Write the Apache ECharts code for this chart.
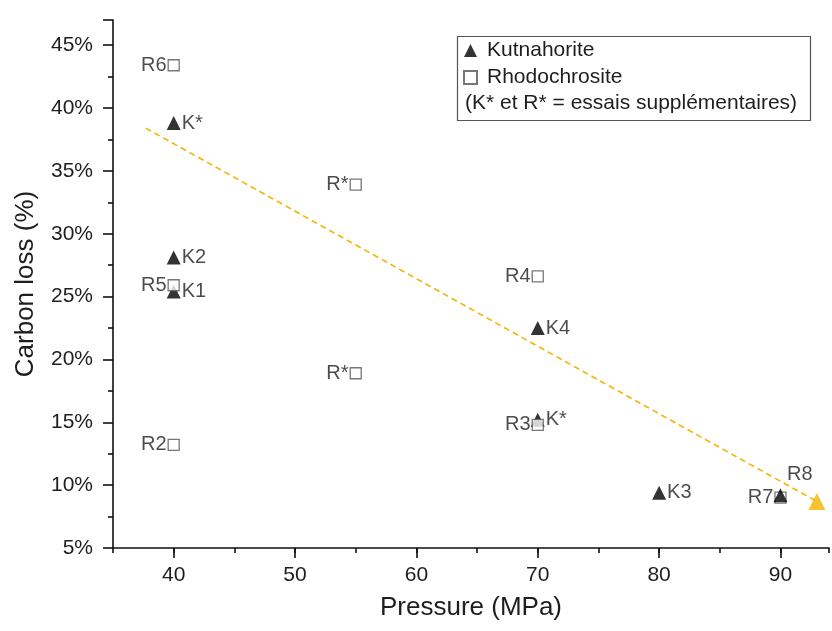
<!DOCTYPE html>
<html>
<head>
<meta charset="utf-8">
<script src="https://cdn.jsdelivr.net/npm/echarts@6/dist/echarts.min.js"></script>
<style>html,body{margin:0;padding:0;background:#fff}#c{width:832px;height:631px}</style>
</head>
<body>
<div id="c"></div>
<script>
// Kutnahorite (triangles): pressure (MPa), carbon loss (%), label
const kutnaX = [40, 40, 40, 70, 70, 80];
const kutnaY = [38.8, 28.1, 25.4, 22.5, 15.2, 9.4];
const kutnaLabels = ['K*', 'K2', 'K1', 'K4', 'K*', 'K3'];
// Kutnahorite point at 90 MPa (drawn above the R7 square)
const kutnaTopX = [90];
const kutnaTopY = [9.2];
// Rhodochrosite (squares)
const rhodoX = [40, 55, 40, 70, 55, 70, 40, 90];
const rhodoY = [43.4, 33.9, 25.9, 26.6, 18.9, 14.8, 13.2, 9.0];
const rhodoLabels = ['R6', 'R*', 'R5', 'R4', 'R*', 'R3', 'R2', 'R7'];
// Trend line end points and target marker
const trendX = [37.7, 93];
const trendY = [38.4, 8.7];
const targetX = [93];
const targetY = [8.7];
const targetLabels = ['R8'];
// Axis ticks
const xTickLabels = [40, 50, 60, 70, 80, 90];
const yTickLabels = [5, 10, 15, 20, 25, 30, 35, 40, 45];

const zip = (xs, ys, ls) => xs.map((x, i) => ls ? {value: [x, ys[i]], name: ls[i]} : [x, ys[i]]);
const FONT = 'Liberation Sans, Arial, sans-serif';
const TXT = '#1e1e1e';
const ORANGE = '#f4b400';
const AX = '#111';

const chart = echarts.init(document.getElementById('c'), null, {renderer: 'canvas'});
const labelStyle = {show: true, formatter: p => p.name, color: TXT, fontFamily: FONT, fontSize: 20};

chart.setOption({
  animation: false,
  backgroundColor: '#fff',
  grid: {left: 113, right: 3, top: 20, bottom: 83},
  xAxis: [{
    type: 'value', min: 35, max: 94, interval: 5,
    name: 'Pressure (MPa)', nameLocation: 'middle', nameGap: 47,
    nameTextStyle: {fontFamily: FONT, fontSize: 26, color: TXT},
    axisLine: {show: true, onZero: false, lineStyle: {color: AX, width: 1.6}},
    axisTick: {show: true, customValues: xTickLabels, length: 10, lineStyle: {color: AX, width: 1.6}},
    axisLabel: {customValues: xTickLabels, fontFamily: FONT, fontSize: 21, color: TXT, margin: 17},
    splitLine: {show: false}
  }, {
    type: 'value', min: 35, max: 94, interval: 5, position: 'bottom',
    axisLine: {show: false},
    axisTick: {show: true, length: 5, lineStyle: {color: AX, width: 1.6}},
    axisLabel: {show: false},
    splitLine: {show: false}
  }],
  yAxis: {
    type: 'value', min: 5, max: 47, interval: 5,
    name: 'Carbon loss (%)', nameLocation: 'middle', nameGap: 74,
    nameTextStyle: {fontFamily: FONT, fontSize: 26, color: TXT},
    axisLine: {show: true, onZero: false, lineStyle: {color: AX, width: 1.6}},
    axisTick: {show: true, length: 10, lineStyle: {color: AX, width: 1.6}},
    minorTick: {show: true, splitNumber: 2, length: 5, lineStyle: {color: AX, width: 1.6}},
    axisLabel: {formatter: v => yTickLabels.includes(v) ? v + '%' : '', fontFamily: FONT, fontSize: 21, color: TXT, margin: 20},
    splitLine: {show: false}
  },
  legend: {
    orient: 'vertical', left: 458, top: 35, itemGap: 6, itemWidth: 13, itemHeight: 13,
    data: ['Kutnahorite', 'Rhodochrosite'],
    textStyle: {fontFamily: FONT, fontSize: 21, color: TXT, padding: [0, 0, 0, 5]}
  },
  graphic: [
    {type: 'rect', left: 455, top: 34, shape: {width: 353, height: 84}, style: {fill: 'none', stroke: '#555', lineWidth: 1.2}, z: 10},
    {type: 'text', left: 465, top: 93, style: {text: '(K* et R* = essais supplémentaires)', font: '21px ' + FONT, fill: TXT}, z: 10}
  ],
  series: [
    {
      name: 'trend', type: 'line', data: zip(trendX, trendY), showSymbol: false, symbol: 'none',
      lineStyle: {color: ORANGE, width: 1.6, type: [6, 4]}, z: 1, silent: true
    },
    {
      name: 'Kutnahorite', type: 'scatter', symbol: 'triangle', symbolSize: 14,
      itemStyle: {color: '#000'}, data: zip(kutnaX, kutnaY, kutnaLabels),
      label: Object.assign({position: 'right', distance: 1}, labelStyle), z: 3
    },
    {
      name: 'Rhodochrosite', type: 'scatter', symbol: 'rect', symbolSize: 11,
      itemStyle: {color: '#fff', borderColor: '#555', borderWidth: 1.3}, data: zip(rhodoX, rhodoY, rhodoLabels),
      label: Object.assign({position: 'left', distance: 1}, labelStyle), z: 4
    },
    {
      name: 'Kutnahorite 90', type: 'scatter', symbol: 'triangle', symbolSize: 14,
      itemStyle: {color: '#000'}, data: zip(kutnaTopX, kutnaTopY), z: 5
    },
    {
      name: 'target', type: 'scatter', symbol: 'triangle', symbolSize: 17,
      itemStyle: {color: ORANGE}, data: zip(targetX, targetY, targetLabels),
      label: Object.assign({position: 'top', distance: 9, offset: [-17, 0]}, labelStyle), z: 5
    }
  ]
});
</script>
</body>
</html>
